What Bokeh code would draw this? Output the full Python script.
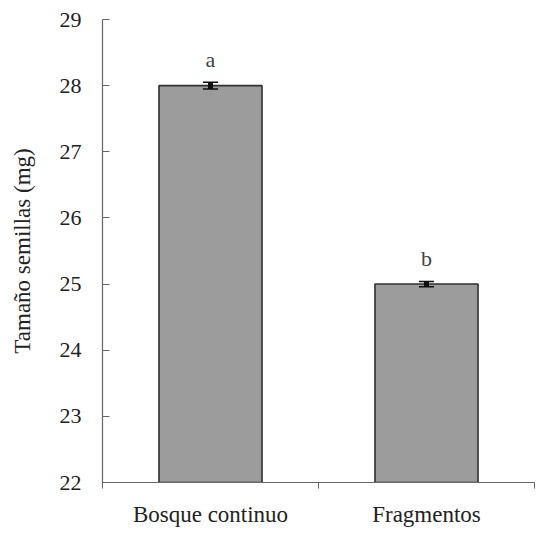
from bokeh.plotting import figure
from bokeh.models import FixedTicker, ColumnDataSource, Range1d
from bokeh.core.properties import value
from bokeh.embed import file_html
from bokeh.resources import INLINE

categories = ["Bosque continuo", "Fragmentos"]
means = [28.0, 25.0]
errors = [0.05, 0.04]
letters = ["a", "b"]
y_ticks = [22, 23, 24, 25, 26, 27, 28, 29]

xpos = [i + 0.5 for i in range(len(categories))]
src = ColumnDataSource(dict(
    x=xpos, top=means,
    lo=[m - e for m, e in zip(means, errors)],
    hi=[m + e for m, e in zip(means, errors)],
    ly=[m + e + 0.34 for m, e in zip(means, errors)],
    letter=letters,
))

FONT = "Liberation Serif"

p = figure(width=538, height=529, output_backend="svg", toolbar_location=None,
           x_range=Range1d(0, len(categories)), y_range=Range1d(22, 29),
           min_border_left=102, min_border_right=4, min_border_top=19, min_border_bottom=46)
p.background_fill_color = "white"
p.border_fill_color = "white"
p.outline_line_color = None
p.grid.visible = False

p.vbar(x="x", top="top", bottom=22, width=0.477, source=src,
       fill_color="#9c9c9c", line_color="#2f2f2f", line_width=1.6)
p.segment(x0="x", x1="x", y0="lo", y1="hi", source=src, line_color="#111111", line_width=5)
p.segment(x0=[x - 0.035 for x in xpos], x1=[x + 0.035 for x in xpos],
          y0=src.data["hi"], y1=src.data["hi"], line_color="#111111", line_width=1.5)
p.segment(x0=[x - 0.035 for x in xpos], x1=[x + 0.035 for x in xpos],
          y0=src.data["lo"], y1=src.data["lo"], line_color="#111111", line_width=1.5)
p.text(x="x", y="ly", text="letter", source=src, text_align="center", text_baseline="alphabetic",
       text_font=value(FONT), text_font_size="22px", text_color="#444444")

# y axis
p.yaxis.ticker = FixedTicker(ticks=y_ticks, minor_ticks=[])
p.yaxis.axis_label = "Tamaño semillas (mg)"
p.yaxis.axis_label_text_font = FONT
p.yaxis.axis_label_text_font_style = "normal"
p.yaxis.axis_label_text_font_size = "23px"
p.yaxis.axis_label_text_color = "#222222"
p.yaxis.axis_label_standoff = 22
p.yaxis.major_label_text_font = FONT
p.yaxis.major_label_text_font_size = "22px"
p.yaxis.major_label_text_color = "#222222"
p.yaxis.major_label_standoff = 21
p.yaxis.major_tick_in = 7
p.yaxis.major_tick_out = 0
p.yaxis.minor_tick_in = 0
p.yaxis.minor_tick_out = 0
p.yaxis.axis_line_color = "#666666"
p.yaxis.major_tick_line_color = "#666666"
p.yaxis.axis_line_width = 1.2

# x axis
p.xaxis.ticker = FixedTicker(ticks=xpos, minor_ticks=list(range(len(categories) + 1)))
p.xaxis.major_label_overrides = {x: c for x, c in zip(xpos, categories)}
p.xaxis.major_label_text_font = FONT
p.xaxis.major_label_text_font_size = "23px"
p.xaxis.major_label_text_color = "#222222"
p.xaxis.major_label_standoff = 13
p.xaxis.major_tick_in = 0
p.xaxis.major_tick_out = 0
p.xaxis.minor_tick_in = 0
p.xaxis.minor_tick_out = 6
p.xaxis.minor_tick_line_color = "#666666"
p.xaxis.axis_line_color = "#666666"
p.xaxis.axis_line_width = 1.2

open("out.html", "w").write(file_html(p, INLINE))
